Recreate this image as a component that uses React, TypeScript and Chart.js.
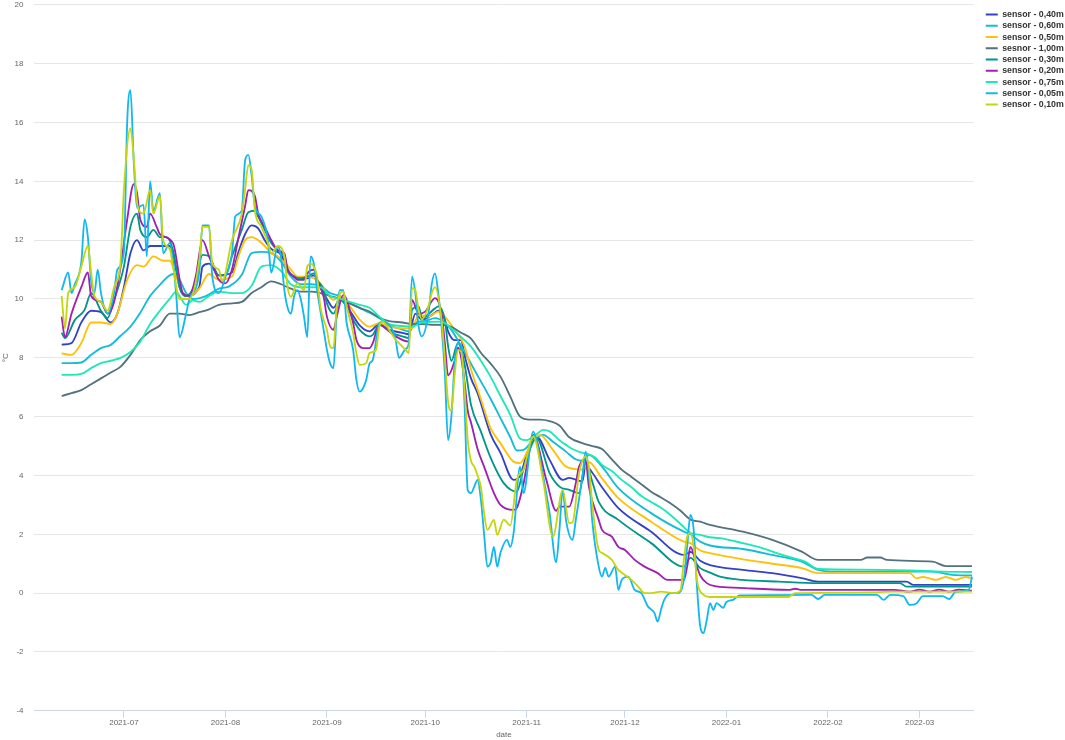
import React, { useEffect, useRef } from 'react';
import { Chart, registerables } from 'chart.js';

Chart.register(...registerables);

// x values are day numbers counted from 2021-05-27 (day 0)
const EPOCH = Date.UTC(2021, 4, 27);
const monthTickLabels = ['2021-07', '2021-08', '2021-09', '2021-10', '2021-11', '2021-12', '2022-01', '2022-02', '2022-03'];
const dayOf = (s: string) => {
  const [y, m] = s.split('-').map(Number);
  return (Date.UTC(y, m - 1, 1) - EPOCH) / 86400000;
};
const monthTickDays = monthTickLabels.map(dayOf);
const xRange = [7.7, 294.4];
const yRange = [-4, 20];

const days040 = [16,19,22,25,28,31,33,35,37,39,41,43,46,49,50,52,54,58,59,61,64,68,70,72,74,76,78,80,83,85,88,91,93,95,97,99,101,104,107,110,113,116,120,122,124,126,129,131,133,134,136,138,139,141,143,147,150,154,156,158,161,165,169,171,175,176,178,181,186,196,206,208,211,214,224,233,242,247,274,276,294];
const temp040 = [8.45,8.5,9.2,9.6,9.55,9.2,9.5,10.4,11.55,12.0,11.65,11.8,11.8,11.8,11.55,10.4,10.1,10.4,11.1,11.2,10.8,10.9,11.6,12.2,12.5,12.4,12.0,11.7,11.5,11.0,10.7,10.7,10.8,10.4,10.0,9.7,10.0,9.6,9.1,8.9,9.15,8.95,8.85,8.8,9.5,9.3,9.45,9.6,9.3,8.9,8.6,8.6,8.1,7.3,6.8,5.4,4.77,3.85,4.0,4.7,5.32,4.53,3.85,3.92,3.8,4.35,4.1,3.6,2.89,2.09,1.3,1.4,1.1,0.95,0.79,0.68,0.51,0.39,0.39,0.28,0.28];

const days060 = [16,19,22,25,28,31,34,37,40,43,46,50,52,54,56,60,64,67,71,74,77,80,83,86,89,92,95,98,101,104,107,110,113,116,119,122,124,127,130,133,135,138,141,144,147,150,153,155,157,160,163,166,170,173,175,177,181,186,196,206,208,211,214,224,233,242,247,251,282,288,294];
const temp060 = [7.82,7.82,7.84,8.1,8.33,8.44,8.75,9.06,9.53,10.1,10.48,10.85,10.65,10.2,10.0,10.1,10.35,10.42,10.82,11.56,11.6,11.56,11.27,10.76,10.5,10.5,10.45,10.2,10.1,9.85,9.7,9.53,9.35,9.1,9.0,8.9,9.2,9.25,9.35,9.2,8.95,8.4,7.8,7.2,6.6,5.95,5.3,4.85,4.87,5.2,5.38,5.15,4.81,4.55,4.5,4.7,4.3,3.57,2.72,2.09,2.0,1.75,1.62,1.5,1.3,1.07,0.79,0.73,0.73,0.62,0.6];

const days050 = [16,19,22,25,28,31,33,36,39,41,44,47,49,51,53,55,58,61,64,68,70,72,74,76,78,80,82,86,88,91,95,97,99,101,104,107,110,113,116,120,123,125,128,131,133,136,139,141,144,147,150,154,156,159,162,166,170,175,177,181,186,196,206,208,211,214,224,233,242,247,275,277,279,283,286,289,292,294];
const temp050 = [8.15,8.1,8.5,9.2,9.2,9.15,9.5,10.65,11.15,11.1,11.45,11.3,11.3,10.75,10.2,10.1,10.35,10.85,10.65,10.76,11.45,12.0,12.1,12.0,11.8,11.55,11.45,11.0,10.76,10.76,10.53,10.2,9.97,10.08,9.75,9.3,9.06,9.18,9.06,9.0,9.0,9.46,9.4,9.57,9.4,8.95,8.4,7.6,6.6,5.6,5.1,4.47,4.42,5.0,5.38,4.87,4.3,4.2,4.45,3.9,3.23,2.43,1.75,1.7,1.45,1.36,1.15,1.0,0.85,0.68,0.68,0.5,0.55,0.45,0.55,0.45,0.55,0.5];

const days100 = [16,19,22,25,28,31,34,37,40,43,46,49,52,55,58,61,64,68,71,74,77,80,83,86,89,92,95,98,101,104,107,110,113,116,120,123,126,129,132,135,138,141,144,147,150,153,156,159,162,165,168,171,175,178,181,184,187,190,193,196,199,202,205,208,211,214,224,233,242,247,260,262,266,268,282,286,294];
const temp100 = [6.7,6.8,6.9,7.1,7.3,7.5,7.7,8.1,8.6,8.9,9.1,9.5,9.5,9.45,9.55,9.65,9.8,9.85,9.9,10.2,10.4,10.6,10.5,10.35,10.25,10.25,10.2,10.1,10.0,9.85,9.7,9.57,9.36,9.25,9.2,9.15,9.15,9.12,9.12,9.05,8.85,8.65,8.17,7.8,7.36,6.68,6.0,5.9,5.9,5.85,5.7,5.3,5.1,5.0,4.9,4.55,4.2,3.95,3.7,3.45,3.25,3.05,2.8,2.5,2.43,2.32,2.09,1.81,1.41,1.13,1.13,1.21,1.21,1.13,1.07,0.92,0.92];

const days030 = [16,17,20,23,25,28,30,32,35,37,39,40,42,44,46,48,50,52,54,57,59,61,64,66,68,71,73,75,76,78,80,82,84,85,87,89,91,93,94,96,97,99,101,103,105,107,110,111,113,117,120,122,123,125,126,130,131,133,134,135,137,139,141,144,147,151,155,157,161,165,168,171,174,176,178,180,186,196,206,208,211,214,217,224,235,247,272,274,294];
const temp030 = [8.85,8.67,9.28,9.63,10.2,9.6,9.35,9.97,11.1,12.45,12.9,12.35,12.1,12.35,12.1,12.1,11.65,10.4,10.1,10.6,11.5,11.45,10.8,10.8,11.45,12.35,12.95,13.0,12.8,12.35,11.9,11.65,11.45,11.0,10.76,10.7,10.76,10.87,10.65,10.3,9.85,9.5,9.97,9.75,9.3,8.95,8.73,8.78,9.12,8.84,8.73,8.67,9.63,9.75,9.35,9.68,9.75,9.3,8.4,7.9,8.5,7.8,6.4,5.5,4.6,3.74,3.45,4.2,5.27,4.08,3.62,3.51,3.4,4.45,3.8,3.1,2.49,1.7,0.9,1.2,0.85,0.7,0.56,0.45,0.39,0.34,0.34,0.22,0.22];

const days020 = [16,17,19,22,24,25,28,30,32,34,36,38,39,40,42,43,45,46,50,53,55,57,59,61,64,66,68,70,72,73,75,76,78,80,82,84,85,87,88,90,91,93,94,96,97,99,100,102,105,106,108,110,111,113,116,118,122,123,125,127,130,132,133,134,136,137,138,139,140,141,143,145,148,150,154,155,157,158,160,164,167,168,171,173,174,176,177,180,181,184,186,188,191,194,198,201,206,207,208,210,211,213,216,223,238,240,242,270,275,278,281,284,287,290,294];
const temp020 = [9.4,8.7,9.5,10.4,10.9,10.1,9.9,9.5,9.9,11.1,12.7,13.9,13.6,12.7,12.45,12.9,12.45,12.2,11.9,10.2,10.1,10.8,12.0,11.45,10.65,10.53,11.0,12.1,13.15,13.7,13.5,12.9,12.45,12.0,11.65,11.55,11.0,10.76,10.65,10.65,10.87,11.0,10.65,10.07,9.4,8.95,9.4,10.14,9.18,8.61,8.33,8.33,8.5,9.12,8.9,8.73,8.55,9.97,9.5,9.57,10.03,9.5,8.5,7.4,7.9,8.35,8.0,7.2,6.2,5.8,4.9,4.3,3.4,3.0,2.83,2.9,3.7,4.3,5.38,3.85,2.8,2.94,2.94,3.74,4.3,4.53,3.62,2.49,2.15,1.92,1.57,1.47,1.13,0.9,0.68,0.45,0.45,0.9,1.57,0.9,0.6,0.34,0.23,0.18,0.11,0.15,0.11,0.11,0.05,0.12,0.05,0.12,0.05,0.12,0.08];

const days075 = [16,19,22,25,28,31,34,37,40,43,46,49,51,52,54,56,58,61,64,68,71,74,77,80,83,86,89,92,95,98,101,104,107,110,113,116,120,123,126,129,132,135,138,141,144,147,150,153,156,158,161,163,165,168,170,172,175,177,179,181,184,187,190,193,196,199,202,205,208,211,214,217,224,230,236,243,247,260,275,285,294];
const temp075 = [7.42,7.42,7.45,7.65,7.82,7.9,8.0,8.2,8.55,9.15,9.6,10.0,10.25,10.1,9.8,9.95,9.9,10.1,10.25,10.2,10.2,10.45,11.1,11.15,10.95,10.5,10.4,10.4,10.4,10.1,10.0,9.9,9.8,9.7,9.4,9.15,9.08,9.06,9.2,9.22,9.23,9.0,8.7,8.38,7.9,7.35,6.7,6.06,5.25,5.2,5.4,5.55,5.5,5.2,5.04,4.9,4.77,4.72,4.6,4.36,4.15,3.85,3.6,3.3,3.1,2.9,2.65,2.35,2.05,1.98,1.9,1.87,1.7,1.53,1.3,1.07,0.82,0.8,0.77,0.73,0.72];

const days005 = [16,18,19,20,22,23,24,25,26,27,28,30,32,33,35,36,37,38,39,41,42,43,44,46,47,49,50,51,52,54,55,58,59,61,62,64,66,68,69,71,72,73,74,75,77,79,80,82,83,84,85,86,87,88,89,90,91,92,93,94,96,97,98,99,100,101,102,103,105,106,107,109,110,111,113,114,117,118,119,121,122,123,124,125,126,128,129,130,131,132,133,134,135,136,137,138,139,140,141,142,143,144,145,146,147,148,149,150,152,153,154,156,157,160,161,163,165,167,168,169,170,172,173,175,176,177,178,180,181,182,183,185,186,187,189,191,193,195,197,198,199,200,202,204,206,207,208,209,210,211,212,213,214,215,216,218,219,221,223,245,247,249,265,267,269,273,275,277,279,285,287,289,293,294];
const temp005 = [10.3,10.9,10.2,10.5,11.25,12.7,12.1,10.6,10.2,11.0,10.2,9.5,10.2,11.0,11.6,16.0,17.1,14.7,13.1,13.2,11.45,14.0,13.0,13.6,11.55,11.9,11.3,10.1,8.7,9.5,10.0,10.9,12.5,12.5,10.75,10.2,10.75,11.55,12.8,13.0,14.7,14.9,14.2,13.15,12.8,12.0,10.9,11.8,11.4,10.3,9.7,9.5,10.1,10.3,10.0,9.4,8.7,11.45,11.2,10.3,8.95,8.27,7.8,7.65,9.6,10.3,10.3,9.2,8.27,7.25,6.85,7.25,7.8,7.93,9.18,9.23,8.95,8.6,8.0,8.3,8.5,10.76,10.2,9.07,8.73,9.5,10.5,10.87,10.2,9.07,7.5,5.2,6.0,7.8,8.5,8.4,6.5,3.5,3.4,3.62,3.85,3.2,2.0,0.9,1.05,1.57,0.9,1.37,1.81,1.57,2.04,4.3,3.4,5.49,5.2,4.0,2.72,1.05,2.15,3.51,2.49,1.81,2.49,3.96,4.81,4.08,2.49,0.9,0.56,0.86,0.56,0.9,0.11,0.45,0.56,0.11,0.0,-0.45,-0.67,-0.97,-0.57,-0.23,0.0,0.0,0.45,1.57,2.66,2.15,0.23,-1.13,-1.36,-0.9,-0.34,-0.57,-0.34,-0.5,-0.3,-0.23,-0.08,-0.06,-0.2,-0.06,-0.06,-0.23,-0.06,-0.1,-0.4,-0.35,-0.1,-0.1,-0.2,0.04,0.11,0.56];

const days010 = [16,17,18,20,22,24,25,26,28,30,32,34,35,37,38,39,40,41,43,44,46,47,49,50,52,55,58,59,61,62,64,65,68,71,72,73,74,75,77,79,80,82,84,85,86,88,90,91,92,93,94,95,97,98,99,100,102,103,105,106,107,109,110,112,113,114,116,118,119,121,122,123,124,125,126,128,129,130,132,133,134,135,136,137,138,139,140,141,142,143,144,145,146,148,149,151,153,155,157,160,163,166,169,171,172,174,176,177,178,180,181,184,186,188,190,192,194,196,199,203,205,206,207,208,209,210,212,214,238,240,262,270,294];
const temp010 = [10.1,9.0,10.2,10.4,11.1,11.8,10.9,10.1,9.9,9.6,10.4,11.3,13.7,15.8,14.8,13.3,12.95,12.9,13.7,12.9,13.5,12.0,11.7,11.1,10.0,10.0,11.3,12.45,12.45,11.2,11.0,10.6,12.0,12.9,13.7,14.55,14.4,13.0,12.45,11.9,11.55,11.8,11.45,10.4,10.07,10.53,10.3,11.1,11.2,11.1,10.76,9.74,8.95,8.38,8.33,9.75,10.25,9.75,8.84,8.16,7.76,7.82,8.16,8.27,9.06,9.23,8.95,8.61,8.5,8.27,8.16,10.37,10.3,9.63,9.3,9.75,10.2,10.4,9.3,8.0,6.5,6.2,7.4,8.27,8.2,7.0,5.2,4.5,4.3,4.0,3.62,2.72,2.15,2.49,1.98,2.5,2.3,3.85,4.19,5.32,3.85,1.92,3.5,2.38,2.4,4.08,4.64,4.3,3.06,1.47,1.37,1.13,0.79,0.62,0.45,0.23,0.0,0.0,0.05,0.0,0.11,1.13,1.92,2.04,1.57,0.45,-0.06,-0.13,-0.13,0.0,0.02,0.05,0.05];

const seriesLabels = ['sensor - 0,40m', 'sensor - 0,60m', 'sensor - 0,50m', 'sesnor - 1,00m', 'sensor - 0,30m', 'sensor - 0,20m', 'sensor - 0,75m', 'sensor - 0,05m', 'sensor - 0,10m'];
const seriesDays = [days040, days060, days050, days100, days030, days020, days075, days005, days010];
const seriesTemps = [temp040, temp060, temp050, temp100, temp030, temp020, temp075, temp005, temp010];
const seriesColors = ['#3442c4', '#14bcd6', '#ffc107', '#53727f', '#009688', '#a020b0', '#1de9b6', '#14b8f0', '#c6d60e'];

const FONT = '"Liberation Sans", Arial, Helvetica, sans-serif';

const zip = (d: number[], t: number[]) => {
  const n = Math.min(d.length, t.length);
  const out: { x: number; y: number }[] = [];
  for (let i = 0; i < n; i++) out.push({ x: d[i], y: t[i] });
  return out;
};

const legendPlace = {
  id: 'legendPlace',
  afterLayout(chart: any) {
    const lg = chart.legend;
    if (!lg) return;
    const w = lg.width;
    const h = lg.height;
    lg.left = 983.3;
    lg.right = lg.left + w;
    lg.top = 7.75;
    lg.bottom = lg.top + h;
  },
};

export default function App() {
  const ref = useRef<HTMLCanvasElement | null>(null);

  useEffect(() => {
    document.body.style.margin = '0';
    const canvas = ref.current;
    if (!canvas) return;
    Chart.defaults.font.family = FONT;

    const datasets = seriesLabels.map((label, i) => ({
      label,
      data: zip(seriesDays[i], seriesTemps[i]),
      borderColor: seriesColors[i],
      backgroundColor: seriesColors[i],
      borderWidth: 1.85,
      pointRadius: 0,
      pointHoverRadius: 0,
      cubicInterpolationMode: 'monotone' as const,
      fill: false,
      order: seriesLabels.length - i,
    }));

    const chart = new Chart(canvas, {
      type: 'line',
      data: { datasets },
      options: {
        animation: false,
        responsive: false,
        devicePixelRatio: 1,
        parsing: false as any,
        normalized: true,
        layout: { padding: { top: 1, right: 1.2, bottom: 0, left: 0.5 } },
        plugins: {
          tooltip: { enabled: false },
          legend: {
            position: 'right',
            align: 'start',
            labels: {
              boxWidth: 12,
              boxHeight: 2,
              padding: 2.45,
              color: '#333333',
              font: { size: 8.8, weight: 'bold', family: FONT },
              generateLabels: (c: any) =>
                c.data.datasets.map((ds: any, i: number) => ({
                  text: ds.label,
                  fillStyle: ds.borderColor,
                  strokeStyle: ds.borderColor,
                  lineWidth: 0,
                  hidden: !c.isDatasetVisible(i),
                  datasetIndex: i,
                  fontColor: '#333333',
                })),
            },
          },
        },
        scales: {
          x: {
            type: 'linear',
            min: xRange[0],
            max: xRange[1],
            afterBuildTicks: (axis: any) => {
              axis.ticks = monthTickDays.map((v) => ({ value: v }));
            },
            ticks: {
              autoSkip: false,
              maxRotation: 0,
              padding: 0,
              color: '#666666',
              font: { size: 8, family: FONT },
              callback: (_v: any, index: number) => monthTickLabels[index],
            },
            grid: { drawOnChartArea: false, color: '#ccd6eb', tickLength: 7 },
            border: { color: '#ccd6eb', width: 1 },
            title: {
              display: true,
              text: 'date',
              color: '#666666',
              font: { size: 8, family: FONT },
              padding: { top: 3, bottom: 0 },
            },
          },
          y: {
            min: yRange[0],
            max: yRange[1],
            ticks: {
              stepSize: 2,
              padding: 0,
              color: '#666666',
              font: { size: 8, family: FONT },
            },
            grid: { color: '#e6e6e6', drawTicks: true, tickLength: 11, tickColor: 'rgba(0,0,0,0)' },
            border: { display: false },
            title: {
              display: true,
              text: '°C',
              color: '#666666',
              font: { size: 8, family: FONT },
              padding: { top: 0, bottom: 4.5 },
            },
          },
        },
      },
      plugins: [legendPlace],
    });

    return () => chart.destroy();
  }, []);

  return (
    <div style={{ width: 1065, height: 740 }}>
      <canvas ref={ref} width={1065} height={740} style={{ display: 'block' }} />
    </div>
  );
}
